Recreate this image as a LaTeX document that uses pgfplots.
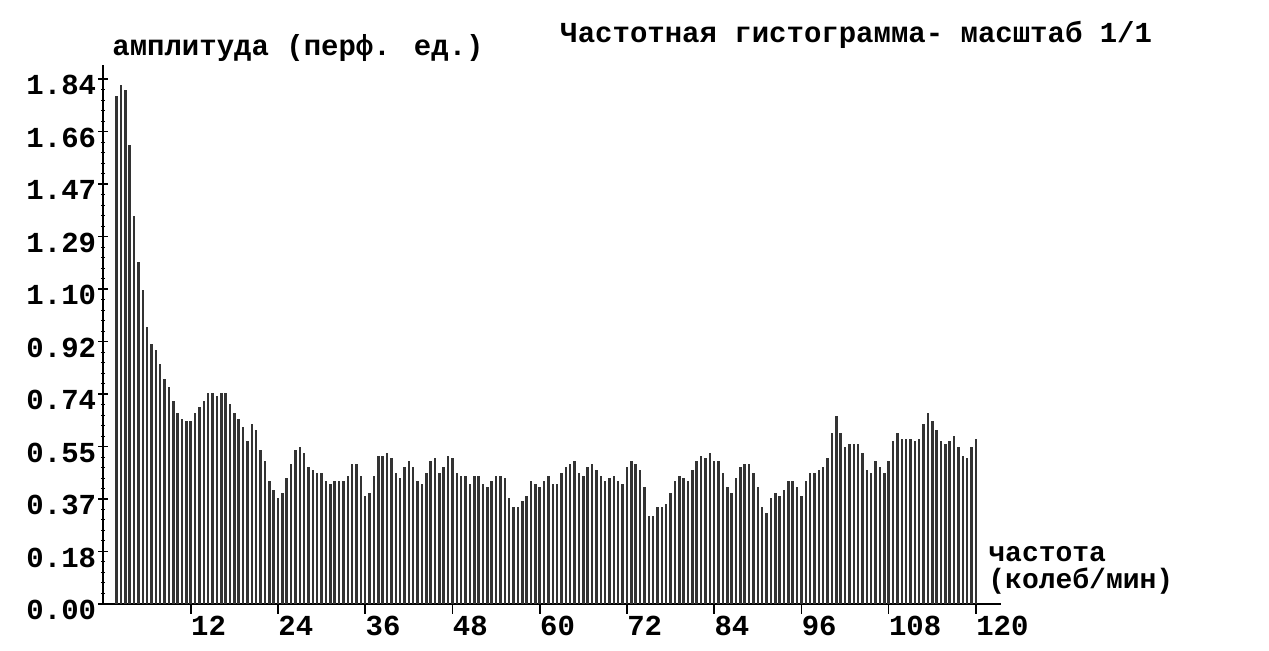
\documentclass[border=0pt]{standalone}
\usepackage{fontspec}
\setmainfont{Liberation Mono}
\usepackage{pgfplots}
\usepackage{pgfplotstable}
\pgfplotsset{compat=1.18}
\pgfplotstableread{
x y
1.8 1.78
2.4 1.82
3.0 1.80
3.6 1.61
4.2 1.36
4.8 1.20
5.4 1.10
6.0 0.97
6.6 0.91
7.2 0.89
7.8 0.84
8.4 0.79
9.0 0.76
9.6 0.71
10.2 0.67
10.8 0.65
11.4 0.64
12.0 0.64
12.6 0.67
13.2 0.69
13.8 0.71
14.4 0.74
15.0 0.74
15.6 0.73
16.2 0.74
16.8 0.74
17.4 0.70
18.0 0.67
18.6 0.65
19.2 0.62
19.8 0.57
20.4 0.63
21.0 0.61
21.6 0.54
22.2 0.50
22.8 0.43
23.4 0.40
24.0 0.37
24.6 0.39
25.2 0.44
25.8 0.49
26.4 0.54
27.0 0.55
27.6 0.53
28.2 0.48
28.8 0.47
29.4 0.46
30.0 0.46
30.6 0.43
31.2 0.42
31.8 0.43
32.4 0.43
33.0 0.43
33.6 0.45
34.2 0.49
34.8 0.49
35.4 0.45
36.0 0.38
36.6 0.39
37.2 0.45
37.8 0.52
38.4 0.52
39.0 0.53
39.6 0.51
40.2 0.46
40.8 0.44
41.4 0.48
42.0 0.50
42.6 0.48
43.2 0.43
43.8 0.42
44.4 0.46
45.0 0.50
45.6 0.51
46.2 0.46
46.8 0.48
47.4 0.52
48.0 0.51
48.6 0.46
49.2 0.45
49.8 0.45
50.4 0.42
51.0 0.45
51.6 0.45
52.2 0.42
52.8 0.41
53.4 0.43
54.0 0.45
54.6 0.45
55.2 0.44
55.8 0.37
56.4 0.34
57.0 0.34
57.6 0.36
58.2 0.38
58.8 0.43
59.4 0.42
60.0 0.41
60.6 0.43
61.2 0.45
61.8 0.42
62.4 0.42
63.0 0.46
63.6 0.48
64.2 0.49
64.8 0.50
65.4 0.46
66.0 0.45
66.6 0.48
67.2 0.49
67.8 0.47
68.4 0.45
69.0 0.43
69.6 0.44
70.2 0.45
70.8 0.43
71.4 0.42
72.0 0.48
72.6 0.50
73.2 0.49
73.8 0.47
74.4 0.41
75.0 0.31
75.6 0.31
76.2 0.34
76.8 0.34
77.4 0.35
78.0 0.39
78.6 0.43
79.2 0.45
79.8 0.44
80.4 0.43
81.0 0.47
81.6 0.50
82.2 0.52
82.8 0.51
83.4 0.53
84.0 0.50
84.6 0.50
85.2 0.46
85.8 0.41
86.4 0.39
87.0 0.44
87.6 0.48
88.2 0.49
88.8 0.49
89.4 0.46
90.0 0.41
90.6 0.34
91.2 0.32
91.8 0.37
92.4 0.39
93.0 0.38
93.6 0.40
94.2 0.43
94.8 0.43
95.4 0.41
96.0 0.38
96.6 0.43
97.2 0.46
97.8 0.46
98.4 0.47
99.0 0.48
99.6 0.51
100.2 0.60
100.8 0.66
101.4 0.60
102.0 0.55
102.6 0.56
103.2 0.56
103.8 0.56
104.4 0.53
105.0 0.47
105.6 0.46
106.2 0.50
106.8 0.48
107.4 0.46
108.0 0.50
108.6 0.57
109.2 0.60
109.8 0.58
110.4 0.58
111.0 0.58
111.6 0.57
112.2 0.58
112.8 0.63
113.4 0.67
114.0 0.64
114.6 0.61
115.2 0.57
115.8 0.56
116.4 0.57
117.0 0.59
117.6 0.55
118.2 0.52
118.8 0.51
119.4 0.55
120.0 0.58
}\histdata
\begin{document}
\begin{tikzpicture}[x=1pt,y=1pt]
\path[use as bounding box] (-51.75,-23.5) rectangle (582.75,302);
\begin{axis}[
  anchor=origin, at={(0pt,0pt)},
  x=3.635pt, y=142.65pt,
  xmin=0, xmax=123.4, ymin=0, ymax=1.89,
  axis x line=bottom, axis y line=left,
  axis line style={-, line width=1pt},
  xtick={12,24,36,48,60,72,84,96,108,120},
  xticklabels={12,24,36,48,60,72,84,96,108,120},
  ytick={0,0.184,0.368,0.552,0.736,0.92,1.104,1.288,1.472,1.656,1.84},
  yticklabels={0.00,0.18,0.37,0.55,0.74,0.92,1.10,1.29,1.47,1.66,1.84},
  minor y tick num=4,
  xtick align=outside, ytick align=center,
  major tick length=5pt, minor tick length=2pt,
  tick style={black, line width=0.8pt},
  minor tick style={black, line width=0.5pt},
  ticklabel style={font=\bfseries\fontsize{14.5}{16}\selectfont},
  /pgf/number format/assume math mode=true,
  xticklabel style={anchor=north west, inner sep=0pt, xshift=0pt, yshift=-1pt},
  yticklabel style={anchor=east, inner sep=0pt, xshift=-1pt, yshift=-3pt},
  clip=false,
]
\addplot[ycomb, black!80, line width=1.25pt, mark=none] table[x=x,y=y] {\histdata};
\end{axis}
\node[anchor=west, inner sep=0pt, font=\bfseries\fontsize{14.5}{16}\selectfont] at (228.25,284.5) {Частотная гистограмма- масштаб 1/1};
\node[anchor=west, inner sep=0pt, font=\bfseries\fontsize{14.5}{16}\selectfont] at (4.25,278) {амплитуда (перф. ед.)};
\node[anchor=base west, inner sep=0pt, font=\bfseries\fontsize{14}{16}\selectfont] at (442.25,21) {частота};
\node[anchor=base west, inner sep=0pt, font=\bfseries\fontsize{14}{16}\selectfont] at (442.25,7.5) {(колеб/мин)};
\end{tikzpicture}
\end{document}
